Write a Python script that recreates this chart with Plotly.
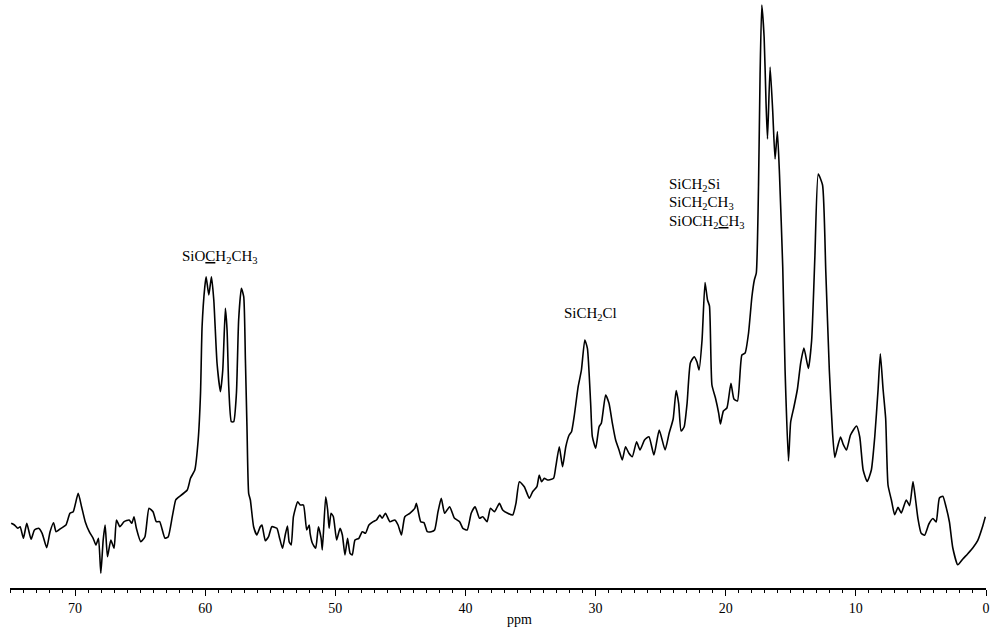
import plotly.graph_objects as go

# 13C NMR spectrum, chemical shift (ppm) and intensity (arbitrary units)
ppm = [
    74.91, 74.66, 74.40, 74.22, 73.97, 73.71, 73.38, 73.12, 72.80, 72.53,
    72.18, 71.92, 71.65, 71.46, 71.08, 70.70, 70.39, 70.14, 69.76, 69.50,
    69.22, 68.91, 68.61, 68.40, 68.20, 68.02, 67.84, 67.69, 67.51, 67.25,
    67.00, 66.82, 66.56, 66.23, 65.85, 65.64, 65.47, 65.29, 64.95, 64.63,
    64.32, 64.01, 63.76, 63.50, 63.09, 62.84, 62.53, 62.27, 62.15,
    61.38, 61.13, 60.80, 60.54, 60.36, 60.24, 60.03, 59.93, 59.72, 59.52,
    59.34, 59.09, 58.83, 58.65, 58.45, 58.32, 58.19, 57.99, 57.81, 57.60,
    57.43, 57.22, 57.04, 56.91, 56.79, 56.66,
    56.53, 56.28, 56.03, 55.77, 55.64, 55.38, 55.13, 54.88, 54.49, 54.31,
    54.06, 53.85, 53.68, 53.55, 53.39, 53.22, 52.89, 52.70, 52.45, 52.20,
    52.01, 51.94, 51.76, 51.51, 51.30, 51.09, 51.00, 50.74, 50.59, 50.48,
    50.33, 50.15, 49.90, 49.64, 49.46, 49.26, 49.06, 48.87, 48.70, 48.49,
    48.19, 47.93, 47.68, 47.42, 47.09, 46.84, 46.58, 46.40, 46.15, 45.81,
    45.43, 45.18, 44.92, 44.66, 44.28, 43.90, 43.77, 43.44, 43.19, 42.93,
    42.63, 42.37, 42.11,
    41.86, 41.60, 41.22, 40.84, 40.45, 40.20, 39.87, 39.56, 39.26, 38.92,
    38.67, 38.34, 38.08, 37.77, 37.39, 37.14, 36.75, 36.37, 36.12, 35.86,
    35.48, 35.09, 34.84, 34.51, 34.33, 34.15, 33.94, 33.69, 33.23, 33.06,
    32.79, 32.54, 32.29, 32.03, 31.85, 31.65,
    31.34, 31.09, 30.83, 30.63, 30.38, 30.25, 29.99, 29.73, 29.56, 29.23,
    28.97, 28.71, 28.46, 28.20, 27.95, 27.70, 27.44, 27.18, 26.85, 26.59,
    26.24, 25.90, 25.52,
    25.11, 24.66, 24.35, 24.04, 23.81, 23.62, 23.43, 23.20, 22.97, 22.72,
    22.43, 22.21, 22.05, 21.82, 21.59, 21.40, 21.25, 21.06, 20.79, 20.54,
    20.41, 20.18, 19.91, 19.60, 19.37, 19.10, 18.76, 18.51, 18.25, 17.99,
    17.80, 17.65, 17.48, 17.36, 17.23, 17.05, 16.90, 16.79, 16.59, 16.39,
    16.21, 16.03, 15.87, 15.62, 15.44, 15.18, 15.01, 14.76, 14.49, 14.24,
    13.99, 13.65, 13.40, 13.15, 12.89, 12.56, 12.31, 12.04, 11.79, 11.62,
    11.43, 11.18, 10.97, 10.72, 10.41, 9.95, 9.70, 9.44, 9.13, 8.81,
    8.55, 8.29, 8.12, 7.91, 7.71, 7.53, 7.27, 7.02, 6.76, 6.51,
    6.13, 5.87, 5.61, 5.41, 5.23, 4.98, 4.72, 4.39, 4.08, 3.83,
    3.58, 3.32, 3.06, 2.81, 2.55, 2.17, 1.78, 1.40, 1.02, 0.64,
    0.25, 0.05,
]

intensity = [
    63.7, 62, 58.7, 60.3, 48.7, 63.7, 47.7, 57, 58.7, 53.7,
    39.3, 55.3, 64.3, 55.3, 58.7, 62, 73.7, 75.3, 93.7, 80.3,
    65.3, 55.3, 48.7, 42, 48.7, 13.7, 47, 62, 30.3, 47,
    38.7, 67, 60.3, 65.3, 67, 63.7, 70.3, 58.7, 45.3, 50.3,
    78.7, 75.3, 65.3, 65.3, 48.7, 50.3, 70.3, 87, 88.7,
    97, 108.7, 117, 147, 193.7, 260.3, 300.3, 310.3, 292, 310.3,
    287, 223.7, 195.3, 217, 278.7, 257, 200.3, 165.3, 165.3, 193.7,
    267, 298.7, 290.3, 227, 160.3, 93.7,
    87, 60.3, 52, 60.3, 62, 46.3, 50.3, 60.3, 58.7, 50.3,
    38.7, 52, 61, 45.3, 42, 70.3, 85.3, 82, 82, 57,
    62, 53.7, 43.7, 38.7, 60.3, 48.7, 37, 90.3, 77, 58.7,
    73.7, 70.3, 47, 58.7, 52, 32, 48.7, 33.7, 32, 47,
    48.7, 55.3, 53.7, 62, 65.3, 67, 72, 68.7, 73.7, 65.3,
    67, 62, 52, 70.3, 73.7, 78.7, 83.7, 65.3, 64.3, 55.3,
    55.3, 57, 75.3,
    88.7, 73.7, 80.3, 68.7, 65.3, 58.7, 57, 73.7, 80.3, 68.7,
    70.3, 65.3, 78.7, 75.3, 83.7, 77, 73.7, 72, 83.7, 105.3,
    100.3, 88.7, 95.3, 100.3, 112, 105.3, 108.7, 107, 108.7, 120.3,
    140.3, 120.3, 140.3, 152, 155.3, 170.3,
    200.3, 217, 247, 238.7, 183.7, 150.3, 138.7, 160.3, 163.7, 192,
    183.7, 163.7, 147, 137, 127, 140.3, 133.7, 130.3, 145.3, 137,
    147, 150.3, 132,
    157, 137, 153.7, 168, 196.5, 183.7, 156, 160, 183.7, 224,
    230.3, 225, 217, 247, 304.5, 287, 281, 202, 189, 173.7,
    163, 176, 179, 203.7, 188, 186, 232, 234, 253.7, 290,
    307, 314, 402, 513, 582, 550, 483.3, 448.1, 520, 476,
    428, 455.5, 413, 320.3, 217, 126, 165, 180, 198, 224,
    239, 218.5, 246.3, 330, 413, 402, 315, 217, 153.7, 129.6,
    139, 150, 142.6, 137, 152, 161, 150, 117, 105.5, 117,
    150, 198, 233.3, 198, 168.5, 102, 87, 72.2, 79.6, 74,
    87, 81.4, 105.5, 87, 68.5, 53.7, 51.8, 63, 68.5, 65,
    89, 90.7, 79.6, 65, 39, 22.2, 28, 33.3, 39, 46.3,
    61, 70.3,
]

# Peak assignments: (label, ppm position, intensity position, anchor)
label_text = [
    "SiO<u>C</u>H<sub>2</sub>CH<sub>3</sub>",
    "SiCH<sub>2</sub>Cl",
    "SiCH<sub>2</sub>Si",
    "SiCH<sub>2</sub>CH<sub>3</sub>",
    "SiOCH<sub>2</sub><u>C</u>H<sub>3</sub>",
]
label_ppm = [58.88, 30.40, 24.50, 24.50, 24.50]
label_int = [330, 273, 402, 384, 365]
label_anchor = ["center", "center", "left", "left", "left"]

FONT = "Liberation Serif, Times New Roman, serif"

fig = go.Figure()
fig.add_trace(go.Scatter(
    x=ppm, y=intensity, mode="lines",
    line=dict(color="black", width=1.6, shape="spline", smoothing=0.5),
    hoverinfo="skip", showlegend=False,
))

for t, xp, yp, anc in zip(label_text, label_ppm, label_int, label_anchor):
    fig.add_annotation(
        x=xp, y=yp, text=t, showarrow=False,
        xanchor=anc, yanchor="middle",
        font=dict(family=FONT, size=15, color="black"),
    )

fig.add_annotation(
    x=35.83, y=0, xref="x", yref="paper", text="ppm", showarrow=False,
    xanchor="center", yanchor="top", yshift=-22,
    font=dict(family=FONT, size=14, color="black"),
)

fig.update_layout(
    width=990, height=634,
    margin=dict(l=10, r=0, t=0, b=46),
    paper_bgcolor="white", plot_bgcolor="white",
    xaxis=dict(
        range=[75, 0], showgrid=False, zeroline=False,
        showline=True, linecolor="black", linewidth=1.5,
        ticks="outside", tick0=0, dtick=10, ticklen=6, tickwidth=1,
        tickcolor="black", ticklabeloverflow="allow",
        minor=dict(dtick=1, ticks="outside", ticklen=3, tickwidth=1,
                   tickcolor="black", showgrid=False),
        tickfont=dict(family=FONT, size=14, color="black"),
    ),
    yaxis=dict(range=[-1, 587], visible=False, fixedrange=True),
)

fig.write_html("out.html", config={"displayModeBar": False})
